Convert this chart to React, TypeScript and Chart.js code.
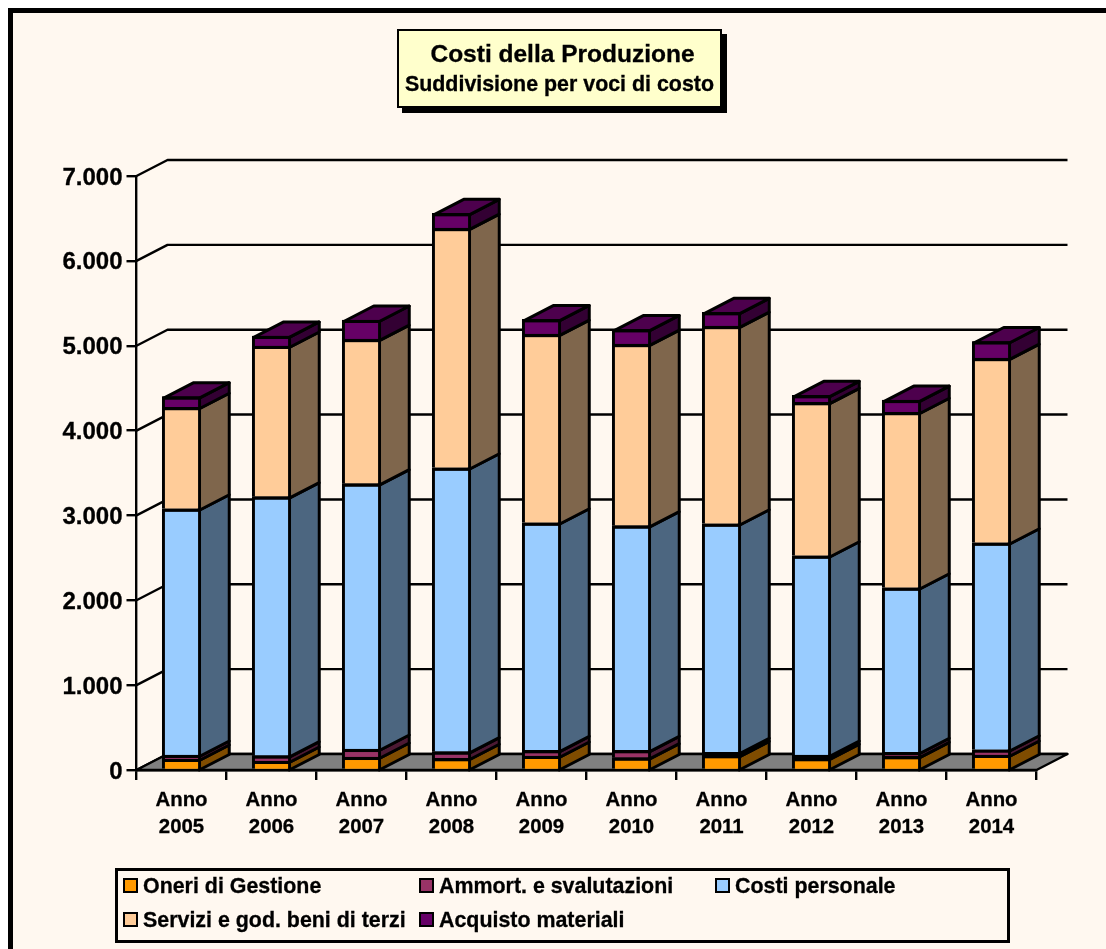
import React, { useEffect, useRef } from "react";
import { Chart, registerables } from "chart.js";

Chart.register(...registerables);

const titleText = "Costi della Produzione";
const subtitleText = "Suddivisione per voci di costo";
const categories = [
  ["Anno", "2005"], ["Anno", "2006"], ["Anno", "2007"], ["Anno", "2008"], ["Anno", "2009"],
  ["Anno", "2010"], ["Anno", "2011"], ["Anno", "2012"], ["Anno", "2013"], ["Anno", "2014"],
];
const yTickLabels = ["0", "1.000", "2.000", "3.000", "4.000", "5.000", "6.000", "7.000"];

const oneriGestione = [130, 106, 153, 138, 165, 145, 173, 138, 161, 177];
const ammortSvalutazioni = [47, 63, 94, 78, 67, 87, 36, 39, 48, 62];
const costiPersonale = [2902, 3052, 3127, 3346, 2682, 2647, 2693, 2348, 1939, 2439];
const serviziTerzi = [1196, 1776, 1703, 2823, 2222, 2139, 2328, 1808, 2068, 2175];
const acquistoMateriali = [125, 118, 226, 175, 174, 174, 163, 82, 143, 197];

const seriesNames = [
  "Oneri di Gestione",
  "Ammort. e svalutazioni",
  "Costi personale",
  "Servizi e god. beni di terzi",
  "Acquisto materiali",
];
const seriesValues = [oneriGestione, ammortSvalutazioni, costiPersonale, serviziTerzi, acquistoMateriali];
const frontColors = ["#FF9900", "#993366", "#99CCFF", "#FFCC99", "#660066"];
const sideColors = ["#7F4C00", "#4C1933", "#4C6680", "#7F664C", "#330033"];
const topColor = "#4D004D";

const FONT = '"Liberation Sans", Arial, sans-serif';
const WALL_DX = 31;
const WALL_DY = 16;
const BAR_DX = 30;
const BAR_DY = 15.5;
const LINE = 3;

const depthPlugin = {
  id: "depth3d",
  beforeDatasetsDraw(chart: any) {
    const { ctx, chartArea, scales } = chart;
    const { left, right } = chartArea;
    const yScale = scales.y;
    const y0 = yScale.getPixelForValue(0);
    ctx.save();
    ctx.strokeStyle = "#000";
    ctx.lineJoin = "round";

    // back gridlines + wall diagonals
    ctx.lineWidth = 2.4;
    yScale.ticks.forEach((t: any) => {
      const y = yScale.getPixelForValue(t.value);
      ctx.beginPath();
      ctx.moveTo(left, y);
      ctx.lineTo(left + WALL_DX, y - WALL_DY);
      ctx.lineTo(right + WALL_DX, y - WALL_DY);
      ctx.stroke();
    });

    // floor
    ctx.beginPath();
    ctx.moveTo(left, y0);
    ctx.lineTo(left + WALL_DX, y0 - WALL_DY);
    ctx.lineTo(right + WALL_DX, y0 - WALL_DY);
    ctx.lineTo(right, y0);
    ctx.closePath();
    ctx.fillStyle = "#808080";
    ctx.fill();
    ctx.stroke();

    // side and top faces
    ctx.lineWidth = LINE;
    const last = chart.data.datasets.length - 1;
    chart.data.datasets.forEach((_: any, di: number) => {
      const meta = chart.getDatasetMeta(di);
      meta.data.forEach((bar: any) => {
        const p = bar.getProps(["x", "y", "base", "width"], true);
        const xr = p.x + p.width / 2 - LINE / 2;
        const xl = p.x - p.width / 2 + LINE / 2;
        const yt = p.y + LINE / 2;
        const yb = di === 0 ? y0 : p.base + LINE / 2;
        ctx.beginPath();
        ctx.moveTo(xr, yb);
        ctx.lineTo(xr + BAR_DX, yb - BAR_DY);
        ctx.lineTo(xr + BAR_DX, yt - BAR_DY);
        ctx.lineTo(xr, yt);
        ctx.closePath();
        ctx.fillStyle = sideColors[di];
        ctx.fill();
        ctx.stroke();
        if (di === last) {
          ctx.beginPath();
          ctx.moveTo(xl, yt);
          ctx.lineTo(xl + BAR_DX, yt - BAR_DY);
          ctx.lineTo(xr + BAR_DX, yt - BAR_DY);
          ctx.lineTo(xr, yt);
          ctx.closePath();
          ctx.fillStyle = topColor;
          ctx.fill();
          ctx.stroke();
        }
      });
    });
    ctx.restore();
  },
  afterDatasetsDraw(chart: any) {
    // the top edge of each front face keeps its full weight on very thin segments
    const { ctx } = chart;
    ctx.save();
    ctx.fillStyle = "#000";
    chart.data.datasets.forEach((_: any, di: number) => {
      chart.getDatasetMeta(di).data.forEach((bar: any) => {
        const p = bar.getProps(["x", "y", "width"], true);
        ctx.fillRect(p.x - p.width / 2, p.y, p.width, LINE);
      });
    });
    ctx.restore();
  },
};

const abs = (left: number, top: number, width: number, height: number): React.CSSProperties => ({
  position: "absolute",
  left,
  top,
  width,
  height,
  boxSizing: "border-box",
});

const legendColumns = [123, 419, 715];
const legendRows = [878, 912];
const textWeight: React.CSSProperties = { WebkitTextStroke: "0.3px #000" } as React.CSSProperties;

export default function App() {
  const ref = useRef<HTMLCanvasElement | null>(null);

  useEffect(() => {
    const chart = new Chart(ref.current as HTMLCanvasElement, {
      type: "bar",
      plugins: [depthPlugin],
      data: {
        labels: categories,
        datasets: seriesNames.map((name, i) => ({
          label: name,
          data: seriesValues[i],
          backgroundColor: frontColors[i],
          borderColor: "#000",
          borderWidth: { left: LINE, right: LINE, top: LINE, bottom: 0 },
          borderSkipped: false,
          barThickness: 38.5,
        })),
      } as any,
      options: {
        responsive: false,
        animation: false,
        devicePixelRatio: 1,
        layout: { padding: { left: 0, right: 69.5, top: 176, bottom: 0 } },
        plugins: { legend: { display: false }, title: { display: false }, tooltip: { enabled: false } },
        scales: {
          x: {
            stacked: true,
            afterFit: (s: any) => { s.height = 179; },
            grid: { drawOnChartArea: false, drawTicks: true, tickLength: 10, color: "#000", lineWidth: 2.4, offset: true },
            border: { color: "#000", width: 2.4 },
            ticks: {
              autoSkip: false,
              maxRotation: 0,
              color: "#000",
              padding: 7,
              textStrokeColor: "#000",
              textStrokeWidth: 0.3,
              font: { family: FONT, size: 20.4, weight: "bold", lineHeight: 1.33 },
            },
          },
          y: {
            stacked: true,
            min: 0,
            max: 7000,
            afterFit: (s: any) => { s.width = 136.5; },
            grid: { drawOnChartArea: false, drawTicks: true, tickLength: 10, color: "#000", lineWidth: 2.4 },
            border: { color: "#000", width: 2.4 },
            ticks: {
              stepSize: 1000,
              color: "#000",
              padding: 4,
              labelOffset: 2,
              textStrokeColor: "#000",
              textStrokeWidth: 0.3,
              font: { family: FONT, size: 24, weight: "bold" },
              callback: (v: any) => yTickLabels[Math.round(Number(v) / 1000)],
            },
          },
        },
      } as any,
    });
    return () => chart.destroy();
  }, []);

  return (
    <div style={{ ...abs(0, 0, 1106, 949), overflow: "hidden", background: "#fff", fontFamily: FONT, fontWeight: "bold", color: "#000" }}>
      <div style={{ ...abs(8, 8, 1098, 941), background: "#FFF8F0", borderTop: "5px solid #000", borderLeft: "5px solid #000" }} />
      <canvas ref={ref} width={1106} height={949} style={{ position: "absolute", left: 0, top: 0, display: "block" }} />
      {/* title box */}
      <div style={{ ...abs(402, 34, 325, 79), background: "#000" }} />
      <div style={{ ...abs(397, 29, 325, 79), background: "#FFFFCC", border: "2px solid #000", textAlign: "center", whiteSpace: "nowrap" }}>
        <div style={{ ...textWeight, position: "absolute", left: 6, right: 0, top: 9, fontSize: 24.5, lineHeight: "28px" }}>{titleText}</div>
        <div style={{ ...textWeight, position: "absolute", left: 0, right: 0, top: 40, fontSize: 21.4, lineHeight: "26px" }}>{subtitleText}</div>
      </div>
      {/* legend */}
      <div style={{ ...abs(115, 868, 894.5, 74.5), border: "3px solid #000" }} />
      {seriesNames.map((name, i) => {
        const left = legendColumns[i % 3];
        const top = legendRows[Math.floor(i / 3)];
        return (
          <React.Fragment key={name}>
            <div style={{ ...abs(left, top, 15, 15), background: frontColors[i], border: "2.5px solid #000" }} />
            <div style={{ ...textWeight, position: "absolute", left: left + 20, top: top - 5, fontSize: 21.4, lineHeight: "26px", whiteSpace: "nowrap" }}>{name}</div>
          </React.Fragment>
        );
      })}
    </div>
  );
}
